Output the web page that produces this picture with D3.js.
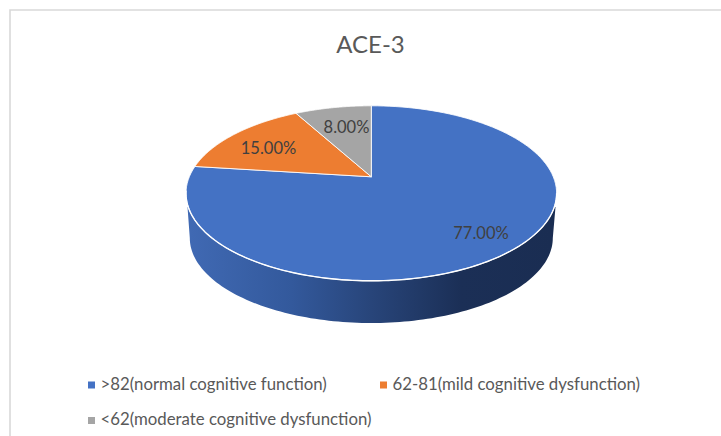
<!DOCTYPE html>
<html><head><meta charset="utf-8">
<script src="https://cdn.jsdelivr.net/npm/d3@7"></script>
<style>html,body{margin:0;padding:0;background:#fff}svg{display:block}text{font-family:Lato,"Open Sans",sans-serif}</style>
</head><body><svg id="c" width="721" height="436"></svg>
<script>
const title = "ACE-3";
const categories = [">82(normal cognitive function)", "62-81(mild cognitive dysfunction)", "<62(moderate cognitive dysfunction)"];
const values = [77, 15, 8];
const labels = ["77.00%", "15.00%", "8.00%"];
const colors = ["#4472c4", "#ed7d31", "#a5a5a5"];

const svg = d3.select("#c");
// chart frame
svg.append("path").attr("d", "M721,10H10V436").attr("fill", "none").attr("stroke", "#d9d9d9").attr("stroke-width", 1.6);

// perspective disc: unit circle -> screen through a homography around the apex
const cx = 371.3, cy = 176.8, A = 182, B = 84.4, K = -0.1886;
const project = t => {
  const x = Math.sin(t), y = -Math.cos(t), d = 1 + K * y;
  return [cx + A * x / d, cy + B * y / d];
};
const pie = d3.pie().sort(null).value(d => d)(values);
const line = d3.line();
const arcPts = (a0, a1) => d3.range(0, 121).map(i => project(a0 + (a1 - a0) * i / 120));

const defs = svg.append("defs");
const grad = defs.append("linearGradient").attr("id", "side").attr("gradientUnits", "userSpaceOnUse")
  .attr("x1", 190).attr("x2", 552).attr("y1", 0).attr("y2", 0);
[[0, "#4069b3"], [0.28, "#33599c"], [0.5, "#28457a"], [0.75, "#1b2f56"], [1, "#1a2d52"]]
  .forEach(([o, c]) => grad.append("stop").attr("offset", o).attr("stop-color", c));

// side wall
const wallCx = 371.3, wallCy = 238, wallRx = 181.5, wallRy = 85;
const wall = d3.range(0, 121).map(i => {
  const t = Math.PI * i / 120;
  return [wallCx - wallRx * Math.cos(t), wallCy + wallRy * Math.sin(t)];
});
const wallPath = [[187.5, 207], ...wall, [555.5, 207]];
svg.append("path").attr("d", line(wallPath)).attr("fill", "url(#side)");

// top slices
svg.append("g").selectAll("path").data(pie).join("path")
  .attr("d", d => line([[cx, cy], ...arcPts(d.startAngle, d.endAngle)]) + "Z")
  .attr("fill", (d, i) => colors[i])
  .attr("stroke", "#fff").attr("stroke-opacity", 0.85).attr("stroke-width", 1).attr("stroke-linejoin", "round");

// brighter rim on the front edge of the disc
svg.append("path").attr("d", line(arcPts(Math.PI * 0.56, Math.PI * 1.45)))
  .attr("fill", "none").attr("stroke", "#fff").attr("stroke-width", 1.4);

// data labels
const labelPos = [[481, 234.5], [268.5, 149.5], [346.5, 128.5]];
svg.append("g").selectAll("text").data(labels).join("text")
  .attr("x", (d, i) => labelPos[i][0]).attr("y", (d, i) => labelPos[i][1])
  .attr("text-anchor", "middle").attr("dominant-baseline", "middle")
  .attr("font-size", 16.5).attr("fill", "#404040").text(d => d);

// title
svg.append("text").attr("x", 370.5).attr("y", 46.5).attr("text-anchor", "middle").attr("dominant-baseline", "middle")
  .attr("font-size", 24).attr("fill", "#595959").text(title);

// legend
const legendPos = [[88, 385.5], [380, 385.5], [88, 421]];
const lg = svg.append("g").selectAll("g").data(categories).join("g")
  .attr("transform", (d, i) => `translate(${legendPos[i][0]},${legendPos[i][1]})`);
lg.append("rect").attr("x", 0).attr("y", -4).attr("width", 7).attr("height", 7).attr("fill", (d, i) => colors[i]);
lg.append("text").attr("x", 12.5).attr("y", 0).attr("dominant-baseline", "middle")
  .attr("font-size", 16.8).attr("fill", "#595959").text(d => d);
</script></body></html>
